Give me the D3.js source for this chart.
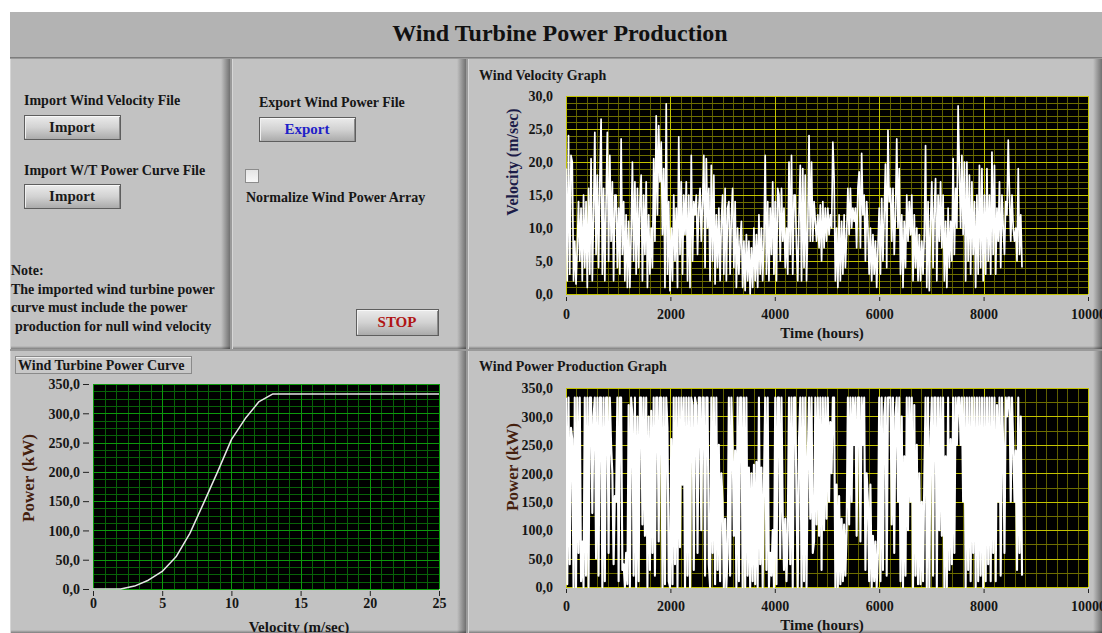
<!DOCTYPE html>
<html><head><meta charset="utf-8">
<script src="https://cdn.jsdelivr.net/npm/d3@7"></script>
<style>
html,body{margin:0;padding:0;background:#fff;overflow:hidden;}
svg{display:block;font-family:"Liberation Serif","Times New Roman",serif;font-weight:bold;}
</style></head><body>
<svg id="c" width="1102" height="633"></svg>
<script>
// ---------- data ----------
const STEP_HOURS = 24; // one sample per day
const timeTicks = [0, 2000, 4000, 6000, 8000, 10000];
const velocityTicks = [0, 5, 10, 15, 20, 25, 30];
const powerTicks = [0, 50, 100, 150, 200, 250, 300, 350];
const curveVelTicks = [0, 5, 10, 15, 20, 25];

const curveVelocity = [0,1,2,3,4,5,6,7,8,9,10,11,12,13,14,15,16,17,18,19,20,21,22,23,24,25];
const curvePower    = [0,0,0,5,15,30,55,95,147,200,255,291,320,333,333,333,333,333,333,333,333,333,333,333,333,333];

const windVelocity = [
19,2,24,3,21,20,2,8,1.5,7,
14,5,13,2,15,4,14,1,16,3,
20.5,2,12,24.5,6,18,4,17,26.5,3,
16,2,14,24.5,5,21,8,17,2,15,
15,4,13,3,23.5,6,14,2,12,1,
11,1,9,20,5,17,3,16,4,14,
18,2,15,6,17,1,12,3,10,4,
20.5,8,27,12,25.5,17,23,9,19,1,
28.8,3,14,0.5,10,2,15,5,13,1,
23.8,6,17,3,15,9,17,2,15,1,
21,5,14,12,15,6,13,16,8,14,
21,4,20.5,10,16,2,19.5,5,18,1.5,
12,4,13,2,11,15,3,16,2,13,
14,3,12,16,4,14,1,10,3,8,
11,1,8,0.5,9,2,8,0,7,1,
10,2,9,1,12,3,10,2,8,21,
3,14,2,13,6,17,3,14,2,16,
15,5,16,8,13,4,10,3,20,6,
21,3,15,15,7,2,12,19.5,2,19,
4,18,2,10,24,8,20,8,14,11,
8,12,7,13.5,5,14,7,13,8,13,
9,12,10,23,17.5,2,10,1,12,2,
11,3,12,4,9,16,9,16,10,13,
11,13,7,16,18.5,7,21.3,12,15,5,
14,10,3,10,2,9,3,8,1,7,
13,3,14.5,5,12,19.7,4,24.8,14,16,
8,16,6,12,23.5,10,19,3,12,1,
11,4,15,8,14,9,15,2,12,4,
10,2,9,2,8,3,9,22.5,1,14,
0.5,11,17,4,13,17.5,2,15,8,17,
7,15,2,11,1,13,4,11,5,20.5,
6,16,10,28.5,19,10,21,9,20,2,
20,5,18,3,17,6,14,1,15,3,
19.5,4,19,2,15,3,19,5,15,3,
21.5,6,19.5,3,13,8,17,4,15,10,
6,14,12,23.3,15,8,15,10,8,10,
5,19,6,12,4
];

const windPower = [
333,5,333,40,280,260,0,333,0,333,
60,333,10,80,0,333,20,333,0,333,
333,130,300,333,50,333,20,333,333,0,
333,10,333,333,60,333,250,200,40,160,
150,333,10,333,333,30,40,0,60,5,
320,0,333,300,20,333,0,300,10,333,
333,110,333,90,333,0,300,30,310,60,
333,20,333,333,80,333,333,0,333,5,
333,280,10,0,260,5,333,40,333,0,
333,70,333,180,333,0,333,20,333,0,
333,320,30,333,320,60,333,333,100,333,
333,20,333,333,40,0,333,60,333,5,
333,30,250,10,200,150,0,120,0,60,
333,20,333,250,90,240,0,333,10,333,
333,0,333,0,333,20,210,0,200,10,
215,5,220,0,333,40,210,0,180,333,
30,333,0,60,20,100,0,333,5,333,
333,50,333,130,30,120,10,100,333,40,
333,0,333,333,150,0,260,333,0,333,
10,333,0,230,333,120,333,60,80,333,
110,333,90,333,30,333,100,333,120,333,
150,290,200,333,333,0,180,0,160,5,
120,10,110,20,100,333,110,333,150,333,
250,333,90,333,333,80,333,250,333,30,
200,150,10,180,0,90,10,80,0,60,
333,10,333,30,300,333,20,333,333,333,
110,333,60,300,333,150,333,10,300,0,
230,20,333,100,333,150,333,0,320,20,
250,5,200,5,150,10,190,333,0,333,
0,260,333,20,333,333,0,333,100,333,
90,333,0,230,0,333,30,260,40,333,
60,333,250,333,333,250,333,150,333,0,
333,30,333,10,333,60,333,0,333,10,
333,20,333,0,333,10,333,40,333,10,
333,60,333,10,320,150,333,20,333,250,
60,333,300,333,333,150,333,250,150,240,
30,333,60,300,20
];

// ---------- drawing ----------
const svg = d3.select("#c");
const defs = svg.append("defs");
const grad = (id, x2, y2, stops) => {
  const lg = defs.append("linearGradient").attr("id", id).attr("x1", 0).attr("y1", 0).attr("x2", x2).attr("y2", y2);
  stops.forEach(s => lg.append("stop").attr("offset", s[0]).attr("stop-color", s[1]).attr("stop-opacity", s[2] == null ? 1 : s[2]));
};
grad("shR", 1, 0, [[0, "#000", 0], [1, "#000", 0.42]]);
grad("shB", 0, 1, [[0, "#000", 0], [1, "#000", 0.35]]);
grad("btn", 0, 1, [[0, "#ececec"], [0.5, "#d2d2d2"], [1, "#a9a9a9"]]);
grad("chk", 0, 1, [[0, "#e4e4e4"], [1, "#f8f8f8"]]);

const PANEL = "#c2c2c2";
svg.append("rect").attr("width", 1102).attr("height", 633).attr("fill", "#fff");
svg.append("rect").attr("x", 10).attr("y", 57).attr("width", 1092).attr("height", 576).attr("fill", "#9a9a9a");
// title bar
svg.append("rect").attr("x", 10).attr("y", 12).attr("width", 1092).attr("height", 45).attr("fill", "#b3b3b3");
svg.append("line").attr("x1", 10).attr("x2", 1102).attr("y1", 57.5).attr("y2", 57.5).attr("stroke", "#7c7c7c");
svg.append("text").attr("x", 560).attr("y", 41).attr("text-anchor", "middle").attr("font-size", 24).attr("fill", "#111")
  .text("Wind Turbine Power Production");

const panels = [
  {x: 10, y: 59, w: 220, h: 290},
  {x: 232, y: 59, w: 234, h: 290},
  {x: 468, y: 59, w: 634, h: 290},
  {x: 10, y: 351, w: 456, h: 282},
  {x: 468, y: 351, w: 634, h: 282}
];
panels.forEach(p => {
  svg.append("rect").attr("x", p.x).attr("y", p.y).attr("width", p.w).attr("height", p.h).attr("fill", PANEL);
  svg.append("rect").attr("x", p.x + p.w - 9).attr("y", p.y).attr("width", 9).attr("height", p.h).attr("fill", "url(#shR)");
  svg.append("rect").attr("x", p.x).attr("y", p.y + p.h - 3).attr("width", p.w).attr("height", 3).attr("fill", "url(#shB)");
  svg.append("line").attr("x1", p.x + 0.5).attr("x2", p.x + 0.5).attr("y1", p.y).attr("y2", p.y + p.h).attr("stroke", "#d6d6d6");
});

function label(x, y, txt, opts = {}) {
  return svg.append("text").attr("x", x).attr("y", y).attr("font-size", opts.size || 14)
    .attr("fill", opts.fill || "#161616").attr("text-anchor", opts.anchor || "start").text(txt);
}
function button(x, y, w, h, txt, color) {
  svg.append("rect").attr("x", x + 0.5).attr("y", y + 0.5).attr("width", w).attr("height", h)
    .attr("fill", "url(#btn)").attr("stroke", "#5e5e5e");
  svg.append("line").attr("x1", x + 1.5).attr("x2", x + w - 0.5).attr("y1", y + 1.5).attr("y2", y + 1.5).attr("stroke", "#f8f8f8");
  svg.append("line").attr("x1", x + 1.5).attr("x2", x + 1.5).attr("y1", y + 1.5).attr("y2", y + h - 0.5).attr("stroke", "#f0f0f0");
  svg.append("line").attr("x1", x + w - 0.5).attr("x2", x + w - 0.5).attr("y1", y + 2).attr("y2", y + h).attr("stroke", "#8a8a8a");
  label(x + w / 2, y + h / 2 + 5, txt, {anchor: "middle", size: 15, fill: color});
}

// left control panel
label(24, 105, "Import Wind Velocity File");
button(24, 115, 96, 24, "Import", "#1a1a1a");
label(24, 174.5, "Import W/T Power Curve File");
button(24, 184, 96, 24, "Import", "#1a1a1a");
label(11, 274.5, "Note:");
label(11, 293.5, "The imported wind turbine power");
label(11, 312, "curve must include the power");
label(15, 330.5, "production for null wind velocity");

// export panel
label(259, 107, "Export Wind Power File");
button(259, 117, 96, 24, "Export", "#1f1fc8");
svg.append("rect").attr("x", 245.5).attr("y", 169.5).attr("width", 13).attr("height", 13)
  .attr("fill", "url(#chk)").attr("stroke", "#8c8c8c");
label(246, 202, "Normalize Wind Power Array");
button(356, 309, 82, 26, "STOP", "#b01515");

// graph captions
label(479, 79.5, "Wind Velocity Graph");
label(479, 371, "Wind Power Production Graph");
svg.append("rect").attr("x", 15.5).attr("y", 356.5).attr("width", 176).attr("height", 17).attr("fill", "#c8c8c8").attr("stroke", "#8a8a8a");
svg.append("line").attr("x1", 16).attr("x2", 191).attr("y1", 357.5).attr("y2", 357.5).attr("stroke", "#eeeeee");
label(18, 370, "Wind Turbine Power Curve");

const fmt1 = v => d3.format(".1f")(v).replace(".", ",");
let clipN = 0;

function drawGraph(c) {
  const x = d3.scaleLinear().domain(c.xDomain).range([c.left, c.right]);
  const y = d3.scaleLinear().domain(c.yDomain).range([c.bottom, c.top]);
  const g = svg.append("g");
  g.append("rect").attr("x", c.left).attr("y", c.top).attr("width", c.right - c.left).attr("height", c.bottom - c.top).attr("fill", "#000");
  const px = v => Math.round(x(v)) + 0.5, py = v => Math.round(y(v)) + 0.5;
  const eps = 1e-6;
  const minorX = d3.range(c.xDomain[0], c.xDomain[1] + eps, c.minorX);
  const minorY = d3.range(c.yDomain[0], c.yDomain[1] + eps, c.minorY);
  const majorX = d3.range(c.xDomain[0], c.xDomain[1] + eps, c.majorX);
  const majorY = d3.range(c.yDomain[0], c.yDomain[1] + eps, c.majorY);
  g.selectAll(null).data(minorX).join("line").attr("x1", px).attr("x2", px).attr("y1", c.top).attr("y2", c.bottom).attr("stroke", c.minorColV);
  g.selectAll(null).data(minorY).join("line").attr("y1", py).attr("y2", py).attr("x1", c.left).attr("x2", c.right).attr("stroke", c.minorColH);
  g.selectAll(null).data(majorY).join("line").attr("y1", py).attr("y2", py).attr("x1", c.left).attr("x2", c.right).attr("stroke", c.majorCol);
  g.selectAll(null).data(majorX).join("line").attr("x1", px).attr("x2", px).attr("y1", c.top).attr("y2", c.bottom).attr("stroke", c.majorCol);
  const id = "clip" + (clipN++);
  defs.append("clipPath").attr("id", id).append("rect").attr("x", c.left).attr("y", c.top - 1).attr("width", c.right - c.left).attr("height", c.bottom - c.top + 2);
  const line = d3.line().x(d => x(d[0])).y(d => y(d[1]));
  g.append("path").attr("clip-path", `url(#${id})`).attr("d", line(c.points))
    .attr("fill", "none").attr("stroke", c.lineCol).attr("stroke-width", c.lineW).attr("stroke-linejoin", "round");

  // axes
  const ax = g.append("g").attr("transform", `translate(0,${c.bottom + c.xTickGap})`)
    .call(d3.axisBottom(x).tickValues(c.xTicks).tickSize(c.xTickLen).tickPadding(0).tickFormat(c.xFmt));
  ax.select(".domain").remove();
  ax.selectAll(".tick line").attr("stroke", "#222");
  ax.selectAll(".tick text").attr("y", c.xLabelDy).attr("dy", 0).attr("font-size", 14).attr("fill", "#151515");
  const ay = g.append("g").attr("transform", `translate(${c.yAxisX},0)`)
    .call(d3.axisLeft(y).tickValues(c.yTicks).tickSize(c.yTickLen).tickPadding(c.yPad).tickFormat(fmt1));
  ay.select(".domain").remove();
  ay.selectAll(".tick line").attr("stroke", "#222");
  ay.selectAll(".tick text").attr("dy", "0.34em").attr("font-size", 14).attr("fill", "#151515");
  ax.attr("font-family", null); ay.attr("font-family", null);

  svg.append("text").attr("x", c.xTitle[0]).attr("y", c.xTitle[1]).attr("text-anchor", "middle").attr("font-size", 15)
    .attr("fill", "#151515").text(c.xTitleText);
  svg.append("text").attr("transform", `translate(${c.yTitle[0]},${c.yTitle[1]}) rotate(-90)`).attr("text-anchor", "middle")
    .attr("font-size", c.yTitleSize).attr("fill", c.yTitleCol).text(c.yTitleText);
  return {x, y};
}

const hoursOf = i => i * STEP_HOURS;
const yellowCfg = {majorCol: "#c4c400", minorColH: "#6e6e00", minorColV: "#5e5e00", lineCol: "#ffffff"};

drawGraph(Object.assign({}, yellowCfg, {
  left: 566, right: 1088, top: 96, bottom: 294, lineW: 1.7,
  xDomain: [0, 10000], yDomain: [0, 30], majorX: 2000, minorX: 200, majorY: 5, minorY: 1,
  points: windVelocity.map((v, i) => [hoursOf(i), v]),
  xTicks: timeTicks, yTicks: velocityTicks, xFmt: d3.format("d"),
  xTickGap: 3, xTickLen: 4, xLabelDy: 22, yAxisX: 553, yTickLen: 0, yPad: 0,
  xTitle: [822, 338], xTitleText: "Time (hours)",
  yTitle: [518, 162], yTitleText: "Velocity (m/sec)", yTitleCol: "#1c1c48", yTitleSize: 16
}));

drawGraph(Object.assign({}, yellowCfg, {
  left: 566, right: 1088, top: 388, bottom: 587, lineW: 2.1,
  xDomain: [0, 10000], yDomain: [0, 350], majorX: 2000, minorX: 200, majorY: 50, minorY: 25,
  points: windPower.map((v, i) => [hoursOf(i), v]),
  xTicks: timeTicks, yTicks: powerTicks, xFmt: d3.format("d"),
  xTickGap: 2, xTickLen: 4, xLabelDy: 22, yAxisX: 553, yTickLen: 0, yPad: 0,
  xTitle: [822, 630], xTitleText: "Time (hours)",
  yTitle: [518, 467], yTitleText: "Power (kW)", yTitleCol: "#45200e", yTitleSize: 17
}));

drawGraph({
  majorCol: "#0c9a0c", minorColH: "#086208", minorColV: "#086208", lineCol: "#e6e6e6", lineW: 1.5,
  left: 93, right: 439, top: 384, bottom: 589,
  xDomain: [0, 25], yDomain: [0, 350], majorX: 5, minorX: 5 / 6, majorY: 50, minorY: 12.5,
  points: curveVelocity.map((v, i) => [v, curvePower[i]]),
  xTicks: curveVelTicks, yTicks: powerTicks, xFmt: d3.format("d"),
  xTickGap: 2, xTickLen: 5, xLabelDy: 17, yAxisX: 89, yTickLen: 6, yPad: 3,
  xTitle: [299, 632], xTitleText: "Velocity (m/sec)",
  yTitle: [34, 478], yTitleText: "Power (kW)", yTitleCol: "#45200e", yTitleSize: 17
});
</script>
</body></html>
